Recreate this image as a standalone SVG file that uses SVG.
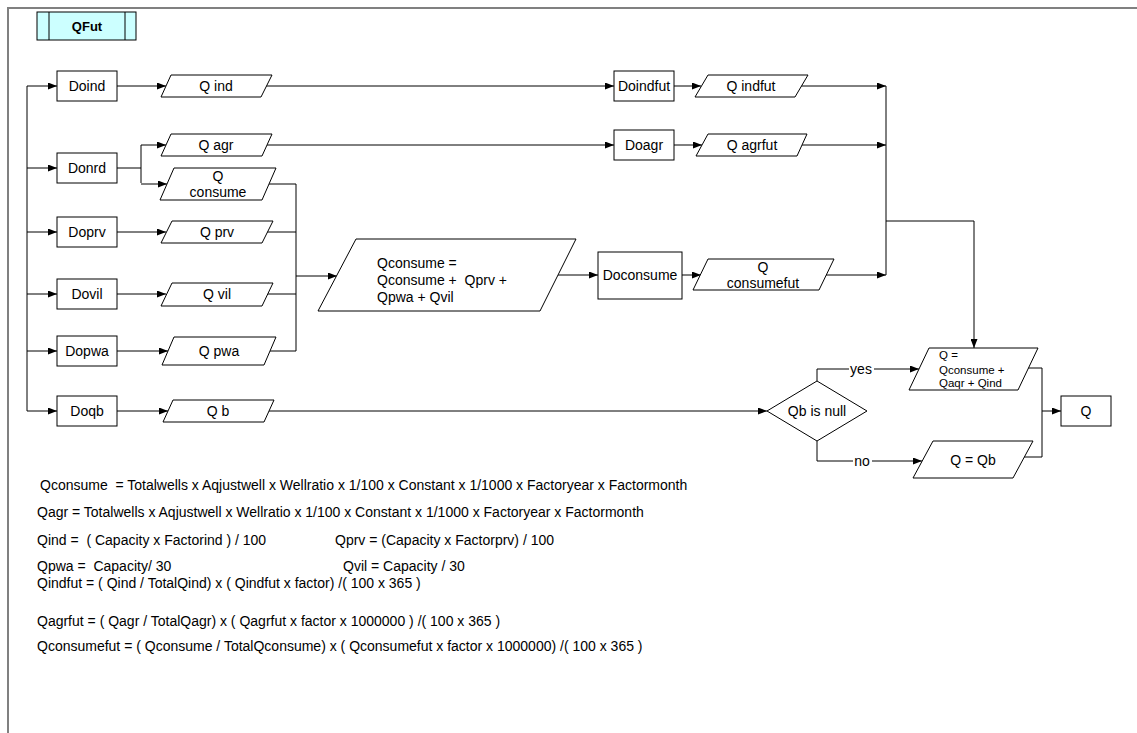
<svg xmlns="http://www.w3.org/2000/svg" width="1137" height="733" viewBox="0 0 1137 733">
<defs>
<marker id="ah" markerWidth="9" markerHeight="7" refX="9" refY="3.5" orient="auto" markerUnits="userSpaceOnUse"><path d="M0,0 L9,3.5 L0,7 z" fill="#000"/></marker>
<style>
.n{fill:#fff;stroke:#000;stroke-width:1}
.t{font-family:"Liberation Sans",Arial,sans-serif;font-size:14px;fill:#000;text-anchor:middle}
.ts{font-family:"Liberation Sans",Arial,sans-serif;font-size:11.5px;fill:#000}
.f{font-family:"Liberation Sans",Arial,sans-serif;font-size:14px;fill:#000}
.c{fill:none;stroke:#000;stroke-width:1}
.a{fill:none;stroke:#000;stroke-width:1;marker-end:url(#ah)}
</style>
</defs>
<rect x="0" y="0" width="1137" height="733" fill="#fff"/>
<path d="M8,733 V8 H1137" fill="none" stroke="#808080" stroke-width="2"/>

<g id="connectors">
<path class="c" d="M27,86 V411"/>
<path class="a" d="M27,86 H57"/>
<path class="a" d="M27,168 H57"/>
<path class="a" d="M27,232 H57"/>
<path class="a" d="M27,294 H57"/>
<path class="a" d="M27,351 H57"/>
<path class="a" d="M27,411 H57"/>
<path class="a" d="M117,86 H166"/>
<path class="c" d="M117,168 H141 M141,145 V183"/>
<path class="a" d="M141,145 H166"/>
<path class="a" d="M141,184 H167"/>
<path class="a" d="M117,232 H166"/>
<path class="a" d="M117,294 H166"/>
<path class="a" d="M117,351 H168"/>
<path class="a" d="M117,411 H168"/>
<path class="a" d="M266,86 H614"/>
<path class="a" d="M267,145 H614"/>
<path class="a" d="M674,86 H701"/>
<path class="a" d="M674,145 H702"/>
<path class="a" d="M801,86 H886"/>
<path class="a" d="M802,145 H886"/>
<path class="a" d="M826,275 H886"/>
<path class="c" d="M886,86 V275"/>
<path class="a" d="M886,221 H974 V348"/>
<path class="c" d="M269,184 H296 M267,232 H296 M267,294 H296 M270,351 H296 M296,184 V351"/>
<path class="a" d="M296,276 H337"/>
<path class="a" d="M558,275 H598"/>
<path class="a" d="M682,275 H701"/>
<path class="a" d="M269,411 H767"/>
<path class="a" d="M817,381 V369 H919"/>
<path class="a" d="M817,441 V461 H922"/>
<path class="c" d="M1028,368 H1042 V457 H1024"/>
<path class="a" d="M1042,411 H1061"/>
<rect x="849" y="362" width="25" height="14" fill="#fff"/>
<rect x="853" y="454" width="19" height="14" fill="#fff"/>
<text class="t" x="861" y="374">yes</text>
<text class="t" x="862" y="466">no</text>
</g>

<g id="QFut">
<rect x="37" y="12" width="99" height="28" fill="#ccffff" stroke="#000" stroke-width="1"/>
<path class="c" d="M49,12 V40 M125,12 V40"/>
<text class="t" x="87" y="31" style="font-weight:bold;font-size:13px">QFut</text>
</g>

<g id="Doind"><rect class="n" x="57" y="71" width="60" height="30"/><text class="t" x="87" y="91">Doind</text></g>
<g id="Donrd"><rect class="n" x="57" y="153" width="60" height="30"/><text class="t" x="87" y="173">Donrd</text></g>
<g id="Doprv"><rect class="n" x="57" y="217" width="60" height="30"/><text class="t" x="87" y="237">Doprv</text></g>
<g id="Dovil"><rect class="n" x="57" y="279" width="60" height="30"/><text class="t" x="87" y="299">Dovil</text></g>
<g id="Dopwa"><rect class="n" x="57" y="336" width="60" height="30"/><text class="t" x="87" y="356">Dopwa</text></g>
<g id="Doqb"><rect class="n" x="57" y="396" width="60" height="30"/><text class="t" x="87" y="416">Doqb</text></g>

<g id="Qind"><polygon class="n" points="171,75 272,75 261,97 161,97"/><text class="t" x="216" y="91">Q ind</text></g>
<g id="Qagr"><polygon class="n" points="171,134 272,134 262,156 161,156"/><text class="t" x="216" y="150">Q agr</text></g>
<g id="Qconsume"><polygon class="n" points="174,168 276,168 262,200 160,200"/><text class="t" x="218" y="181">Q</text><text class="t" x="218" y="197">consume</text></g>
<g id="Qprv"><polygon class="n" points="172,221 273,221 262,243 161,243"/><text class="t" x="217" y="237">Q prv</text></g>
<g id="Qvil"><polygon class="n" points="172,283 273,283 262,306 161,306"/><text class="t" x="217" y="299">Q vil</text></g>
<g id="Qpwa"><polygon class="n" points="174,337 276,337 264,365 162,365"/><text class="t" x="219" y="356">Q pwa</text></g>
<g id="Qb"><polygon class="n" points="173,400 274,400 264,422 163,422"/><text class="t" x="218" y="416">Q b</text></g>

<g id="Qsum"><polygon class="n" points="356,239 576,239 540,311 318,311"/>
<text class="f" x="377" y="268">Qconsume =</text>
<text class="f" x="377" y="285" xml:space="preserve">Qconsume +  Qprv +</text>
<text class="f" x="377" y="302">Qpwa + Qvil</text></g>
<g id="Doconsume"><rect class="n" x="598" y="252" width="84" height="47"/><text class="t" x="640" y="280">Doconsume</text></g>
<g id="Qconsumefut"><polygon class="n" points="708,259 834,259 819,290 693,290"/><text class="t" x="763" y="272">Q</text><text class="t" x="763" y="288">consumefut</text></g>

<g id="Doindfut"><rect class="n" x="614" y="71" width="60" height="30"/><text class="t" x="644" y="91">Doindfut</text></g>
<g id="Qindfut"><polygon class="n" points="708,75 808,75 795,97 695,97"/><text class="t" x="751" y="91">Q indfut</text></g>
<g id="Doagr"><rect class="n" x="614" y="130" width="60" height="30"/><text class="t" x="644" y="150">Doagr</text></g>
<g id="Qagrfut"><polygon class="n" points="708,134 807,134 797,156 696,156"/><text class="t" x="752" y="150">Q agrfut</text></g>

<g id="decision"><polygon class="n" points="767,411 817,381 867,411 817,441"/><text class="t" x="817" y="416">Qb is null</text></g>
<g id="Qtotal"><polygon class="n" points="929,348 1038,348 1018,390 909,390"/>
<text class="ts" x="939" y="359">Q =</text>
<text class="ts" x="939" y="374">Qconsume +</text>
<text class="ts" x="939" y="387">Qaqr + Qind</text></g>
<g id="QeqQb"><polygon class="n" points="933,441 1033,441 1013,478 913,478"/><text class="t" x="973" y="465">Q = Qb</text></g>
<g id="Q"><rect class="n" x="1061" y="396" width="50" height="30"/><text class="t" x="1086" y="416">Q</text></g>

<g id="formulas">
<text class="f" x="40" y="490" xml:space="preserve">Qconsume  = Totalwells x Aqjustwell x Wellratio x 1/100 x Constant x 1/1000 x Factoryear x Factormonth</text>
<text class="f" x="37" y="517">Qagr = Totalwells x Aqjustwell x Wellratio x 1/100 x Constant x 1/1000 x Factoryear x Factormonth</text>
<text class="f" x="37" y="545" xml:space="preserve">Qind =  ( Capacity x Factorind ) / 100</text>
<text class="f" x="335" y="545">Qprv = (Capacity x Factorprv) / 100</text>
<text class="f" x="37" y="571" xml:space="preserve">Qpwa =  Capacity/ 30</text>
<text class="f" x="343" y="571">Qvil = Capacity / 30</text>
<text class="f" x="37" y="588">Qindfut = ( Qind / TotalQind) x ( Qindfut x factor) /( 100 x 365 )</text>
<text class="f" x="37" y="626">Qagrfut = ( Qagr / TotalQagr) x ( Qagrfut x factor x 1000000 ) /( 100 x 365 )</text>
<text class="f" x="37" y="651">Qconsumefut = ( Qconsume / TotalQconsume) x ( Qconsumefut x factor x 1000000) /( 100 x 365 )</text>
</g>
</svg>
